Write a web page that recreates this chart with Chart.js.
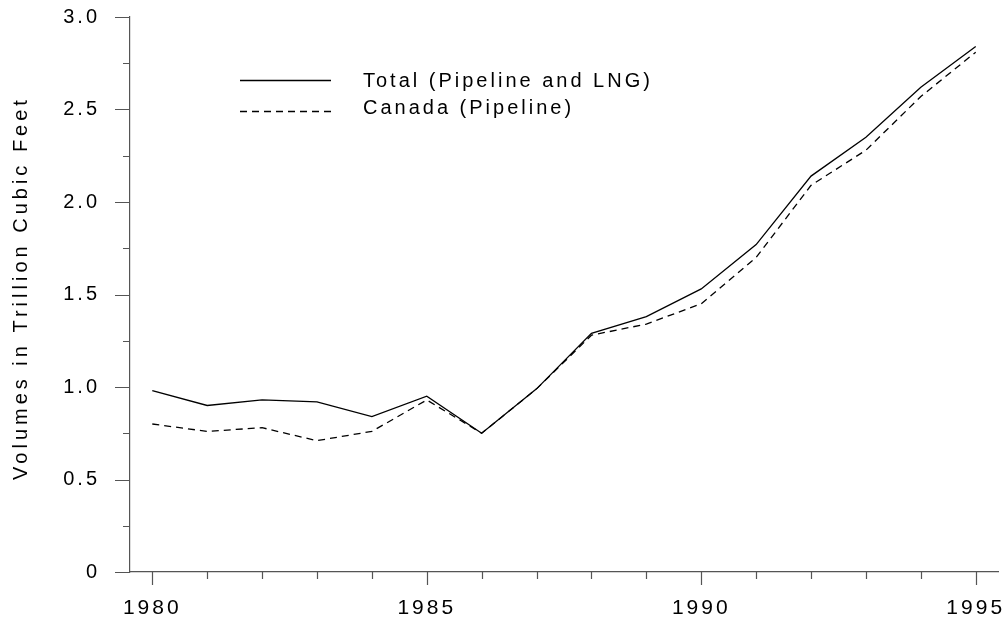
<!DOCTYPE html>
<html>
<head>
<meta charset="utf-8">
<script src="https://cdn.jsdelivr.net/npm/chart.js@4/dist/chart.umd.min.js"></script>
<style>
  html, body { margin: 0; padding: 0; background: #fff; }
  #wrap { width: 1006px; height: 618px; position: relative; }
</style>
</head>
<body>
<div id="wrap"><canvas id="c" width="1006" height="618"></canvas></div>
<script>
// Natural gas imports, trillion cubic feet
const years = [1980, 1981, 1982, 1983, 1984, 1985, 1986, 1987, 1988, 1989, 1990, 1991, 1992, 1993, 1994, 1995];
const totalImports = [0.98, 0.90, 0.93, 0.92, 0.84, 0.95, 0.75, 0.99, 1.29, 1.38, 1.53, 1.77, 2.14, 2.35, 2.62, 2.84];
const canadaImports = [0.80, 0.76, 0.78, 0.71, 0.76, 0.93, 0.75, 0.99, 1.28, 1.34, 1.45, 1.70, 2.09, 2.28, 2.57, 2.81];
const seriesNames = ['Total (Pipeline and LNG)', 'Canada (Pipeline)'];
const yTickValues = [0, 0.5, 1.0, 1.5, 2.0, 2.5, 3.0];
const xTickValues = [1980, 1985, 1990, 1995];
const yTitle = 'Volumes in Trillion Cubic Feet';

const FONT = '"Liberation Sans", Arial, sans-serif';
const AXIS_COLOR = '#555';

// Spaced-out lettering for every label on the canvas
const spacingPlugin = {
  id: 'spacing',
  beforeDraw(chart) { chart.ctx.letterSpacing = '3px'; }
};

// Fixed axis box sizes; tick labels may overhang the plot edges
function fixBox(prop, size) {
  return function (scale) {
    scale[prop] = size;
    scale.paddingTop = 0;
    scale.paddingBottom = 0;
    scale.paddingLeft = 0;
    scale.paddingRight = 0;
  };
}

// Major and minor tick marks on both axes, plus the vertical axis title
const tickMarks = {
  id: 'tickMarks',
  afterDraw(chart) {
    const ctx = chart.ctx;
    const xs = chart.scales.x, ys = chart.scales.y;
    ctx.save();
    ctx.strokeStyle = AXIS_COLOR;
    ctx.lineWidth = 1.2;
    ctx.beginPath();
    for (let v = 0; v <= 3.0001; v += 0.25) {
      const y = Math.round(ys.getPixelForValue(v)) + 0.5;
      const major = Math.abs(v * 2 - Math.round(v * 2)) < 1e-6;
      ctx.moveTo(xs.left - (major ? 15 : 7), y);
      ctx.lineTo(xs.left, y);
    }
    for (const yr of years) {
      const x = Math.round(xs.getPixelForValue(yr)) + 0.5;
      ctx.moveTo(x, ys.bottom);
      ctx.lineTo(x, ys.bottom + (yr % 5 === 0 ? 13 : 7));
    }
    ctx.stroke();

    ctx.fillStyle = '#000';
    ctx.font = '20px ' + FONT;
    ctx.letterSpacing = '4px';
    ctx.textAlign = 'center';
    ctx.textBaseline = 'middle';
    ctx.translate(21, 288);
    ctx.rotate(-Math.PI / 2);
    ctx.fillText(yTitle, 0, 0);
    ctx.restore();
  }
};

// Line-sample legend inside the plot area
const insetLegend = {
  id: 'insetLegend',
  afterDraw(chart) {
    const ctx = chart.ctx;
    const rows = [
      { ds: chart.data.datasets[0], lineY: 80, textY: 81 },
      { ds: chart.data.datasets[1], lineY: 111, textY: 108 }
    ];
    ctx.save();
    ctx.font = '20px ' + FONT;
    ctx.letterSpacing = '3px';
    ctx.textAlign = 'left';
    ctx.textBaseline = 'middle';
    ctx.fillStyle = '#000';
    for (const r of rows) {
      ctx.strokeStyle = r.ds.borderColor;
      ctx.lineWidth = r.ds.borderWidth;
      ctx.setLineDash(r.ds.borderDash || []);
      ctx.beginPath();
      ctx.moveTo(240, r.lineY + 0.5);
      ctx.lineTo(331, r.lineY + 0.5);
      ctx.stroke();
      ctx.fillText(r.ds.label, 363, r.textY);
    }
    ctx.restore();
  }
};

new Chart(document.getElementById('c'), {
  type: 'line',
  data: {
    datasets: [
      {
        label: seriesNames[0],
        data: years.map((y, i) => ({ x: y, y: totalImports[i] })),
        borderColor: '#000',
        borderWidth: 1.3,
        pointRadius: 0,
        tension: 0,
        fill: false
      },
      {
        label: seriesNames[1],
        data: years.map((y, i) => ({ x: y, y: canadaImports[i] })),
        borderColor: '#000',
        borderWidth: 1.3,
        borderDash: [7, 5],
        pointRadius: 0,
        tension: 0,
        fill: false
      }
    ]
  },
  options: {
    responsive: false,
    animation: false,
    layout: { padding: { top: 17, right: 8, left: 0, bottom: 0 } },
    plugins: {
      legend: { display: false },
      tooltip: { enabled: false }
    },
    scales: {
      x: {
        type: 'linear',
        min: 1979.594,
        max: 1995.406,
        afterFit: fixBox('height', 46),
        afterBuildTicks(scale) { scale.ticks = xTickValues.map(v => ({ value: v })); },
        ticks: {
          callback: v => String(v),
          font: { family: FONT, size: 21 },
          color: '#000',
          padding: 16,
          maxRotation: 0,
          autoSkip: false
        },
        grid: { display: false },
        border: { display: true, color: AXIS_COLOR, width: 1.2 }
      },
      y: {
        type: 'linear',
        min: 0,
        max: 3,
        afterFit: fixBox('width', 130),
        afterBuildTicks(scale) { scale.ticks = yTickValues.map(v => ({ value: v })); },
        ticks: {
          callback: v => (v === 0 ? '0' : v.toFixed(1)),
          font: { family: FONT, size: 20 },
          color: '#000',
          padding: 22,
          autoSkip: false
        },
        grid: { display: false },
        border: { display: true, color: AXIS_COLOR, width: 1.2 }
      }
    }
  },
  plugins: [spacingPlugin, tickMarks, insetLegend]
});
</script>
</body>
</html>
